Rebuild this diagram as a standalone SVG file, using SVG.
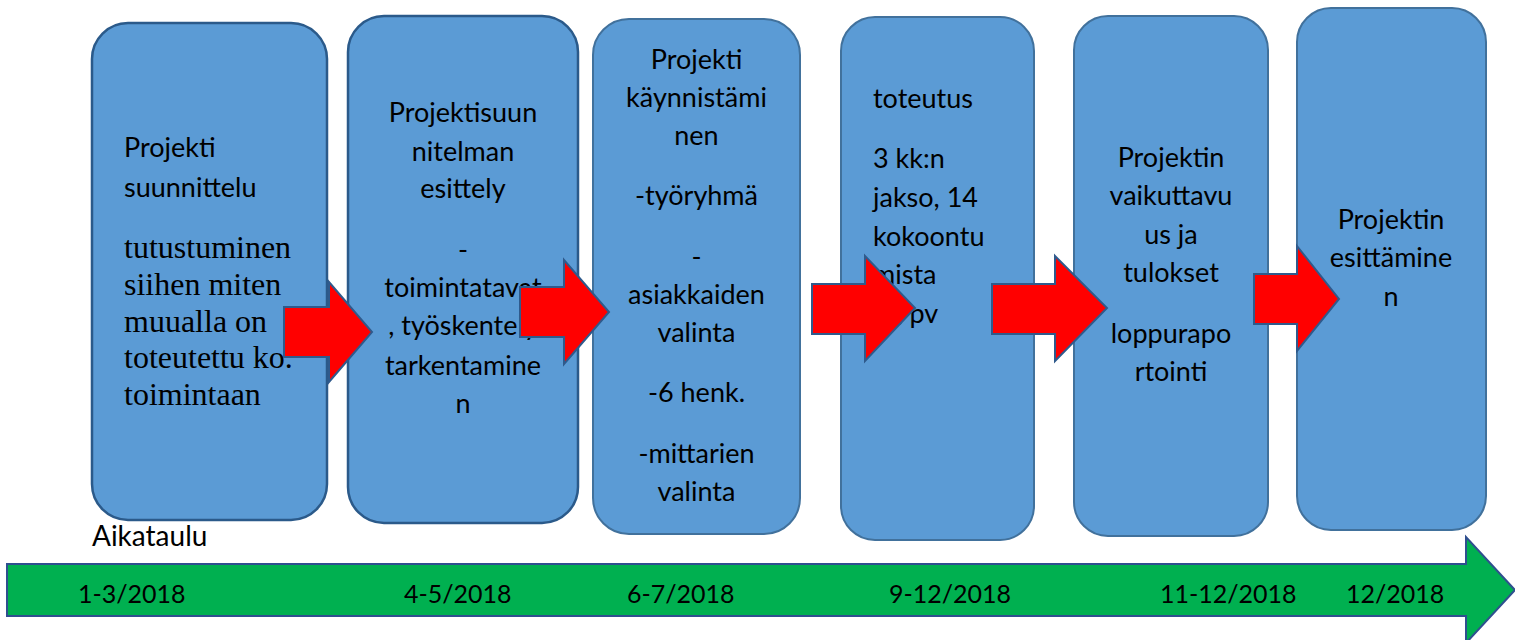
<svg xmlns="http://www.w3.org/2000/svg" width="1515" height="640" viewBox="0 0 1515 640">
<style>
.box{fill:#5B9BD5;stroke:#41719C;stroke-width:2}
.boxd{fill:#5B9BD5;stroke:#2B5A8A;stroke-width:2.5}
.t{font-family:Lato,"Noto Sans",sans-serif;font-size:27px;fill:#000}
.d{font-family:Lato,"Noto Sans",sans-serif;font-size:25px;fill:#000}
.c{text-anchor:middle}
.s{font-family:"Liberation Serif","Times New Roman",serif;font-size:32px;fill:#000}
.red{fill:#FF0000;stroke:#2F5A8C;stroke-width:2;stroke-linejoin:miter}
.green{fill:#00B050;stroke:#2F4F8F;stroke-width:2}
</style>
<rect width="1515" height="640" fill="#FFFFFF"/>
<g id="timeline">
<polygon class="green" points="7,564 1466,564 1466,537 1515,590 1466,643 1466,616 7,616"/>
<text class="t" x="92" y="546" style="font-size:28px">Aikataulu</text>
<text class="d" x="78" y="603">1-3/2018</text>
<text class="d" x="404" y="603">4-5/2018</text>
<text class="d" x="627" y="603">6-7/2018</text>
<text class="d" x="889" y="603">9-12/2018</text>
<text class="d" x="1160" y="603">11-12/2018</text>
<text class="d" x="1346" y="603">12/2018</text>
</g>
<g id="node1">
<rect class="boxd" x="92" y="23" width="235" height="497" rx="36"/>
<text class="t" x="124" y="157">Projekti</text>
<text class="t" x="124" y="197">suunnittelu</text>
<text class="s" x="124" y="258">tutustuminen</text>
<text class="s" x="124" y="295">siihen miten</text>
<text class="s" x="124" y="332">muualla on</text>
<text class="s" x="124" y="368">toteutettu ko.</text>
<text class="s" x="124" y="405">toimintaan</text>
</g>
<g id="node2">
<rect class="boxd" x="348" y="16" width="230" height="507" rx="36"/>
<text class="t c" x="463" y="122">Projektisuun</text>
<text class="t c" x="463" y="161">nitelman</text>
<text class="t c" x="463" y="198">esittely</text>
<text class="t c" x="463" y="259">-</text>
<text class="t c" x="463" y="297">toimintatavat</text>
<text class="t c" x="463" y="335">, työskentely</text>
<text class="t c" x="463" y="375">tarkentamine</text>
<text class="t c" x="463" y="413">n</text>
</g>
<g id="node3">
<rect class="box" x="593" y="19" width="207" height="515" rx="36"/>
<text class="t c" x="696.5" y="69">Projekti</text>
<text class="t c" x="696.5" y="107">käynnistämi</text>
<text class="t c" x="696.5" y="145">nen</text>
<text class="t c" x="696.5" y="205">-työryhmä</text>
<text class="t c" x="696.5" y="266">-</text>
<text class="t c" x="696.5" y="304">asiakkaiden</text>
<text class="t c" x="696.5" y="342">valinta</text>
<text class="t c" x="696.5" y="402">-6 henk.</text>
<text class="t c" x="696.5" y="463">-mittarien</text>
<text class="t c" x="696.5" y="501">valinta</text>
</g>
<g id="node4">
<rect class="box" x="841" y="17" width="193" height="523" rx="34"/>
<text class="t" x="873" y="108">toteutus</text>
<text class="t" x="873" y="168">3 kk:n</text>
<text class="t" x="873" y="207">jakso, 14</text>
<text class="t" x="873" y="246">kokoontu</text>
<text class="t" x="873" y="284">mista</text>
<text class="t" x="898" y="323">/pv</text>
</g>
<g id="node5">
<rect class="box" x="1074" y="16" width="194" height="520" rx="34"/>
<text class="t c" x="1171" y="167">Projektin</text>
<text class="t c" x="1171" y="205">vaikuttavu</text>
<text class="t c" x="1171" y="244">us ja</text>
<text class="t c" x="1171" y="282">tulokset</text>
<text class="t c" x="1171" y="343">loppurapo</text>
<text class="t c" x="1171" y="381">rtointi</text>
</g>
<g id="node6">
<rect class="box" x="1297" y="8" width="189" height="522" rx="34"/>
<text class="t c" x="1391" y="229">Projektin</text>
<text class="t c" x="1391" y="267">esittämine</text>
<text class="t c" x="1391" y="306">n</text>
</g>
<g id="connectors">
<polygon class="red" points="284,307 329,307 329,282 372,332 329,382 329,357 284,357"/>
<polygon class="red" points="520,287 564,287 564,260 609,312 564,364 564,337 520,337"/>
<polygon class="red" points="812,284 865,284 865,256 915,308 865,361 865,334 812,334"/>
<polygon class="red" points="992,284 1055,284 1055,256 1107,308 1055,361 1055,334 992,334"/>
<polygon class="red" points="1254,274 1297,274 1297,246 1339,299 1297,351 1297,324 1254,324"/>
</g>
</svg>
